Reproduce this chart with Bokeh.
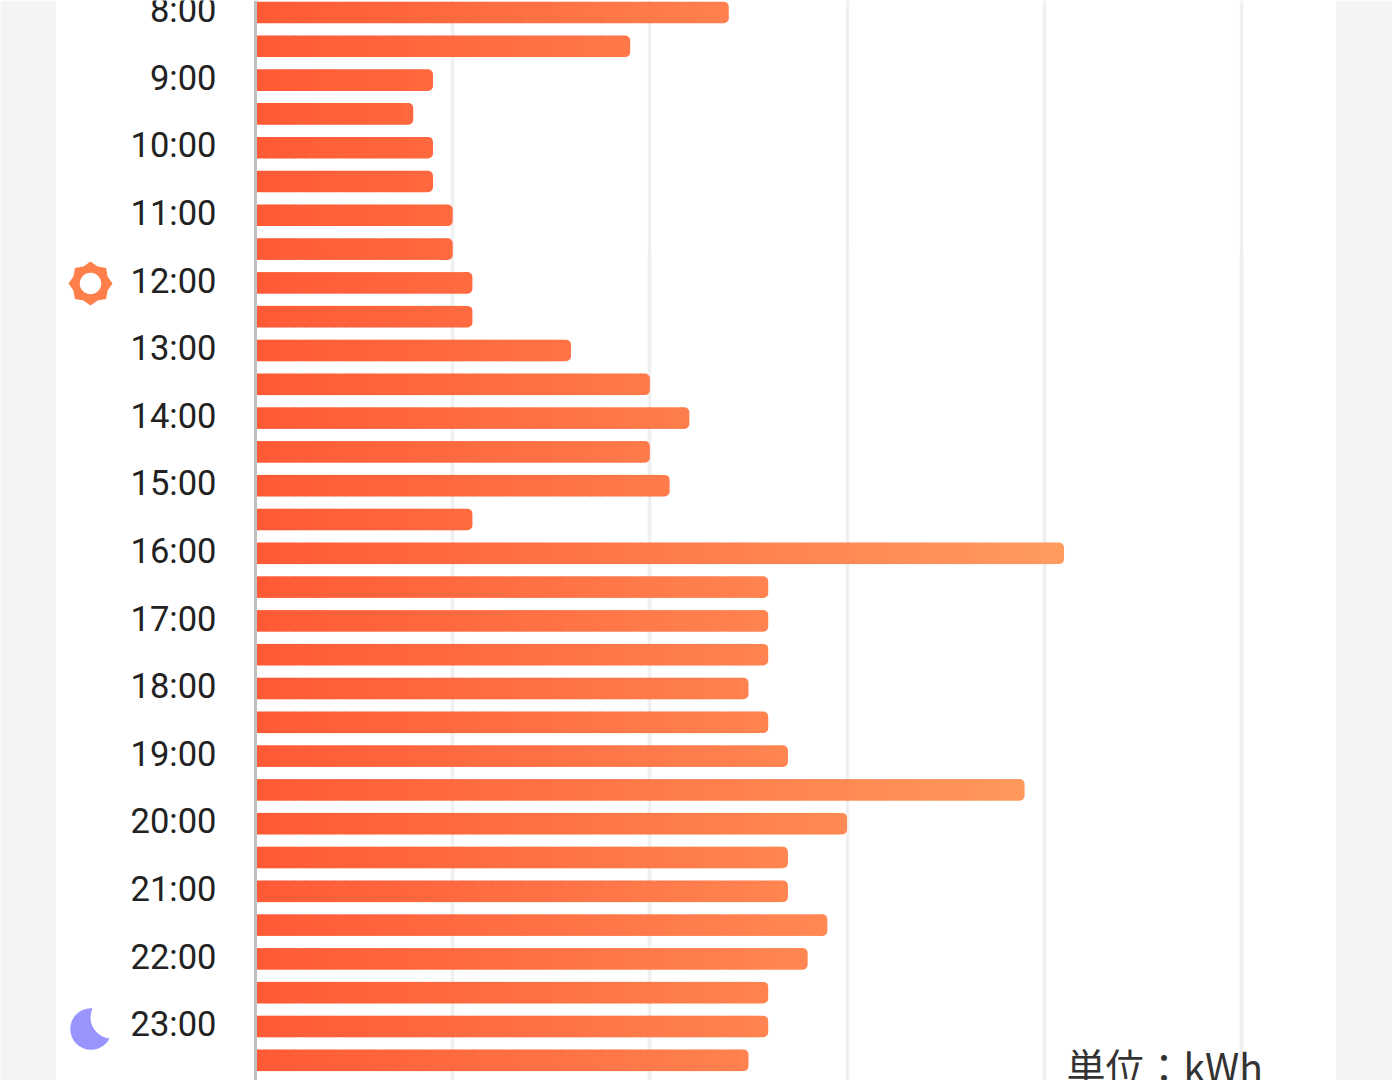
from bokeh.plotting import figure
from bokeh.models import Range1d, FixedTicker, Label, GlobalInlineStyleSheet
from bokeh.core.properties import value
from bokeh.embed import file_html
from bokeh.resources import INLINE
import numpy as np

hours = ["8:00","9:00","10:00","11:00","12:00","13:00","14:00","15:00","16:00","17:00","18:00","19:00","20:00","21:00","22:00","23:00"]
usage = [2.4,1.9,0.9,0.8,0.9,0.9,1.0,1.0,1.1,1.1,1.6,2.0,2.2,2.0,2.1,1.1,
         4.1,2.6,2.6,2.6,2.5,2.6,2.7,3.9,3.0,2.7,2.7,2.9,2.8,2.6,2.6,2.5]
grid_values = [1,2,3,4,5]
unit_label = "単位：kWh"

W, H = 1392, 1080
UNIT_PX = 197.2
ROW_PX = 33.8
X0_PX, Y0_PX = 255, 12

def dx(px):
    return (px - X0_PX) / UNIT_PX
def dy(px):
    return (px - Y0_PX) / ROW_PX

p = figure(width=W, height=H, output_backend="svg", toolbar_location=None,
           x_range=Range1d(dx(0), dx(W)),
           y_range=Range1d(dy(H), dy(0)),
           min_border=0, min_border_left=0, min_border_right=0, min_border_top=0, min_border_bottom=0,
           background_fill_color="white", border_fill_color="white", outline_line_color=None)
p.stylesheets = [GlobalInlineStyleSheet(css="html,body{margin:0;overflow:hidden}")]

# page side bands
p.quad(left=[dx(-2), dx(1335.5)], right=[dx(55.5), dx(W + 2)],
       bottom=[dy(H)] * 2, top=[dy(0)] * 2,
       fill_color="#f4f4f4", line_color=None, level="underlay")

p.xaxis.visible = False
p.xaxis.ticker = FixedTicker(ticks=grid_values)
p.xgrid.grid_line_color = "#f0f0f0"
p.xgrid.grid_line_width = 3.5
p.ygrid.visible = False

# tick labels sit 2.5 px above their bar; the first label is placed as text because
# the axis would push it off its position at the frame's edge
label_shift = 0.07
ax = p.yaxis[0]
ax.fixed_location = 0
tick_pos = [round(2 * i - label_shift, 2) for i in range(1, len(hours))]
ax.ticker = FixedTicker(ticks=tick_pos)
ax.major_label_overrides = {t: h for t, h in zip(tick_pos, hours[1:])}
ax.major_label_text_font = "Roboto"
ax.major_label_text_font_size = "34.5px"
ax.major_label_text_color = "#222222"
ax.major_label_standoff = 33
ax.major_tick_line_color = None
ax.minor_tick_line_color = None
ax.axis_line_color = "#c0c0c0"
ax.axis_line_width = 3
p.text(x=[dx(216)], y=[-label_shift], text=[hours[0]], text_align="right", text_baseline="middle",
       text_font=value("Roboto"), text_font_size="34.5px", text_color="#222222")

# horizontal colour ramp along the value axis
c0, c1 = np.array([255, 90, 54]), np.array([255, 155, 95])
def ramp(v):
    t = min(v / max(usage), 1.0)
    r, g, b = (c0 + (c1 - c0) * t).round().astype(int)
    return f"#{r:02x}{g:02x}{b:02x}"

bar_h = 21.6 / ROW_PX
step = 0.05
overlap = 1.0 / UNIT_PX
sy, sl, sr, sc = [], [], [], []
ey, el, er, ec = [], [], [], []
for y, v in enumerate(usage):
    n = int(round(v / step))
    for k in range(n - 1):
        sy.append(y); sl.append(k * step); sr.append((k + 1) * step + overlap); sc.append(ramp((k + 0.5) * step))
    ey.append(y); el.append((n - 1) * step); er.append(v); ec.append(ramp(v))
p.hbar(y=sy, left=sl, right=sr, height=bar_h, line_color=None, fill_color=sc)
p.hbar(y=ey, left=el, right=er, height=bar_h, line_color=None, fill_color=ec, border_radius=(0, 5, 5, 0))

# white ground under the unit label
p.quad(left=[dx(1050)], right=[dx(1334)], bottom=[dy(H)], top=[dy(1038)],
       fill_color="white", line_color=None, level="underlay")
p.add_layout(Label(x=1066, y=16, x_units="screen", y_units="screen",
                   text=unit_label, text_font="Noto Sans CJK JP", text_font_size="39px",
                   text_color="#333333", text_baseline="alphabetic"))

# sun icon
cx, cy = 90, 283
ang = np.arange(16) * np.pi / 8 - np.pi / 2
rad = np.where(np.arange(16) % 2 == 0, 22.0, 18.5)
p.patch(dx(cx + rad * np.cos(ang)), dy(cy + rad * np.sin(ang)), fill_color="#ff7f4a", line_color=None)
p.scatter([dx(cx)], [dy(cy)], marker="circle", size=21.5, fill_color="white", line_color=None)

# moon icon
p.scatter([dx(90.5)], [dy(1028.5)], marker="circle", size=41.5, fill_color="#9a94ff", line_color=None)
p.scatter([dx(111)], [dy(1017)], marker="circle", size=42, fill_color="white", line_color=None)

open("out.html", "w").write(file_html(p, INLINE))
